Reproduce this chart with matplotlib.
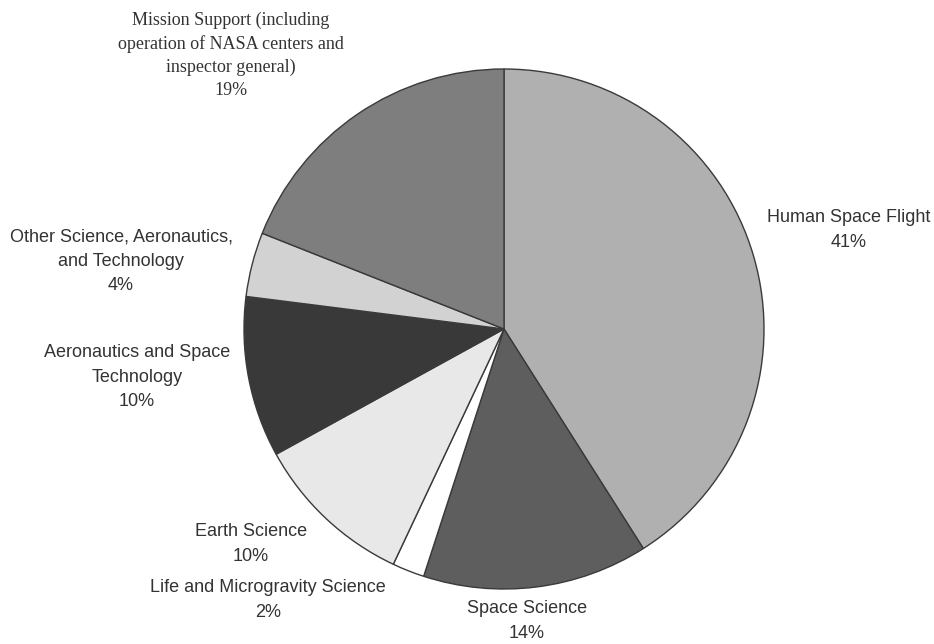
import matplotlib
matplotlib.use("Agg")
import matplotlib.pyplot as plt

categories = [
    "Human Space Flight",
    "Space Science",
    "Life and Microgravity Science",
    "Earth Science",
    "Aeronautics and Space\nTechnology",
    "Other Science, Aeronautics,\nand Technology",
    "Mission Support (including\noperation of NASA centers and\ninspector general)",
]
shares = [41, 14, 2, 10, 10, 4, 19]
colors = ["#b0b0b0", "#5e5e5e", "#ffffff", "#e8e8e8", "#393939", "#d2d2d2", "#7e7e7e"]

# label anchor positions in pixel coordinates (x, y from top)
label_pos = [
    (849, 230),
    (527, 621),
    (268, 600),
    (251, 544),
    (137, 377),
    (121, 261),
    (231, 55),
]

W, H = 934, 644
fig = plt.figure(figsize=(W / 100, H / 100), dpi=100)
ax = fig.add_axes([0, 0, 1, 1])

cx, cy, r = 504, H - 329, 260
ax.pie(shares, colors=colors, startangle=90, counterclock=False,
       center=(cx, cy), radius=r, frame=True,
       wedgeprops=dict(edgecolor="#3a3a3a", linewidth=1.0))
ax.set_xlim(0, W)
ax.set_ylim(0, H)
ax.set_aspect("equal")
ax.axis("off")

for i, (cat, val) in enumerate(zip(categories, shares)):
    x, y = label_pos[i]
    txt = f"{cat}\n{val}%"
    if i == 6:
        ax.text(x, H - y, txt, ha="center", va="center", fontsize=13,
                family="Liberation Serif", color="#333333", linespacing=1.45)
    else:
        ax.text(x, H - y, txt, ha="center", va="center", fontsize=13,
                family="Liberation Sans", color="#333333", linespacing=1.55)

fig.savefig("out.png", dpi=100)
